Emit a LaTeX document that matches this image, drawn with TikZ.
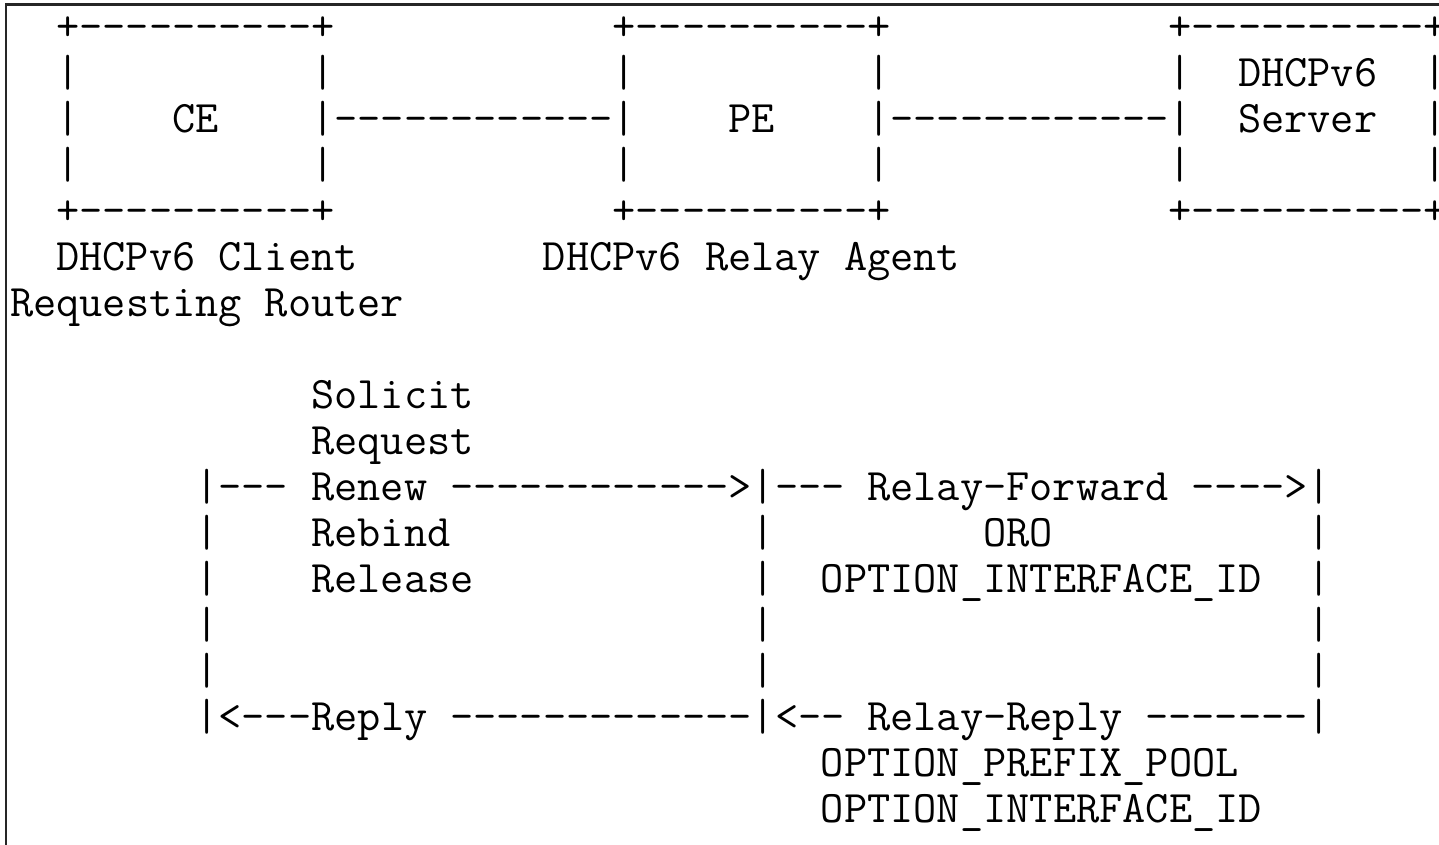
\documentclass[tikz,border=0pt]{standalone}
\usepackage{fontspec}
\setmonofont{Latin Modern Mono}
\newcommand\cx[1]{(10+23.17*(#1))}
\newcommand\ry[1]{(40+46*(#1))}
\begin{document}
\begin{tikzpicture}[x=1pt,y=-1pt,
  t/.style={anchor=base west,inner sep=0pt,outer sep=0pt,
    font=\ttfamily\fontsize{45.06}{46}\selectfont,text=black},
  frame/.style={line width=2.5pt,draw=black!85}]
\useasboundingbox (0,0) rectangle (1439,844);
\fill[white] (0,0) rectangle (1439,844);
\coordinate (fb) at (6,846);
\coordinate (fc) at (6,4.5);
\coordinate (fr) at (1441,4.5);
\draw[frame] (fb) -- (fc) -- (fr);
% boxes top and bottom edges
\foreach \r in {0,4}{
  \node[t] (ce-e\r) at ({\cx{2}},{\ry{\r}}) {+----------+};
  \node[t] (pe-e\r) at ({\cx{26}},{\ry{\r}}) {+----------+};
  \node[t] (sv-e\r) at ({\cx{50}},{\ry{\r}}) {+----------+};
}
% box sides
\foreach \r in {1,3}{
  \foreach \c in {2,13,26,37,50,61}{
    \node[t] (bar-\r-\c) at ({\cx{\c}},{\ry{\r}}) {|};
  }
}
\foreach \c in {2,61}{
  \node[t] (bar-2-\c) at ({\cx{\c}},{\ry{2}}) {|};
}
\node[t] (ce) at ({\cx{7}},{\ry{2}}) {CE};
\node[t] (ce-pe) at ({\cx{13}},{\ry{2}}) {|------------|};
\node[t] (pe) at ({\cx{31}},{\ry{2}}) {PE};
\node[t] (pe-sv) at ({\cx{37}},{\ry{2}}) {|------------|};
\node[t] (sv1) at ({\cx{53}},{\ry{1}}) {DHCPv6};
\node[t] (sv2) at ({\cx{53}},{\ry{2}}) {Server};
% labels
\node[t] (cl1a) at ({\cx{2}},{\ry{5}}) {DHCPv6};
\node[t] (cl1b) at ({\cx{9}},{\ry{5}}) {Client};
\node[t] (cl2a) at ({\cx{0}},{\ry{6}}) {Requesting};
\node[t] (cl2b) at ({\cx{11}},{\ry{6}}) {Router};
\node[t] (raa) at ({\cx{23}},{\ry{5}}) {DHCPv6};
\node[t] (rab) at ({\cx{30}},{\ry{5}}) {Relay};
\node[t] (rac) at ({\cx{36}},{\ry{5}}) {Agent};
% messages
\node[t] (m1) at ({\cx{13}},{\ry{8}}) {Solicit};
\node[t] (m2) at ({\cx{13}},{\ry{9}}) {Request};
\node[t] (fwd1) at ({\cx{8}},{\ry{10}}) {|---};
\node[t] (m3) at ({\cx{13}},{\ry{10}}) {Renew};
\node[t] (fwd2) at ({\cx{19}},{\ry{10}}) {------------>|---};
\node[t] (rf) at ({\cx{37}},{\ry{10}}) {Relay-Forward};
\node[t] (fwd3) at ({\cx{51}},{\ry{10}}) {---->|};
\node[t] (m4) at ({\cx{13}},{\ry{11}}) {Rebind};
\node[t] (m5) at ({\cx{13}},{\ry{12}}) {Release};
\node[t] (oro) at ({\cx{42}},{\ry{11}}) {ORO};
\node[t] (oid1) at ({\cx{35}},{\ry{12}}) {OPTION\_INTERFACE\_ID};
\foreach \r in {11,12,13,14}{
  \foreach \c in {8,32,56}{
    \node[t] (lane-\r-\c) at ({\cx{\c}},{\ry{\r}}) {|};
  }
}
\node[t] (rep1) at ({\cx{8}},{\ry{15}}) {|<---Reply};
\node[t] (rep2) at ({\cx{19}},{\ry{15}}) {-------------|<--};
\node[t] (rr) at ({\cx{37}},{\ry{15}}) {Relay-Reply};
\node[t] (rep3) at ({\cx{49}},{\ry{15}}) {-------|};
\node[t] (pool) at ({\cx{35}},{\ry{16}}) {OPTION\_PREFIX\_POOL};
\node[t] (oid2) at ({\cx{35}},{\ry{17}}) {OPTION\_INTERFACE\_ID};
\end{tikzpicture}
\end{document}
